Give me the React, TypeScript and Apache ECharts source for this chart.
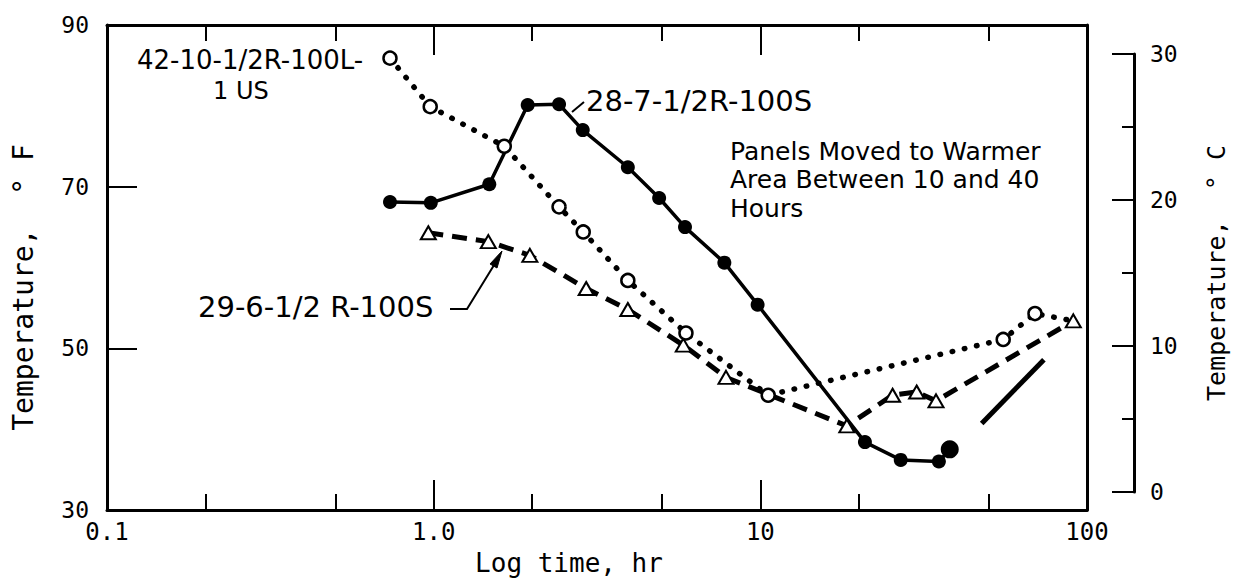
import React, { useEffect, useRef } from "react";
import * as echarts from "echarts";

// 28-7-1/2R-100S (filled circles, solid line)
const solidTimes = [0.735, 0.98, 1.48, 1.94, 2.42, 2.86, 3.93, 4.9, 5.88, 7.76, 9.81, 20.9, 26.9, 35.2, 38.0];
const solidTemps = [68.1, 68.0, 70.3, 80.1, 80.2, 77.0, 72.4, 68.6, 65.0, 60.6, 55.4, 38.4, 36.2, 36.0, 37.5];

// 42-10-1/2R-100L-1US (open circles, dotted line); the line ends on the last triangle
const dottedTimes = [0.735, 0.976, 1.645, 2.42, 2.87, 3.93, 5.92, 10.57, 55.4, 69.3, 90.8];
const dottedTemps = [85.9, 79.9, 75.0, 67.5, 64.4, 58.4, 51.9, 44.2, 51.1, 54.3, 53.4];

// 29-6-1/2R-100S (open triangles, dashed line)
const dashedTimes = [0.963, 1.47, 1.97, 2.93, 3.93, 5.81, 7.85, 18.4, 25.4, 30.1, 34.5, 90.8];
const dashedTemps = [64.3, 63.2, 61.5, 57.4, 54.8, 50.4, 46.4, 40.4, 44.2, 44.6, 43.5, 53.4];

// free-standing solid stroke at the right
const strokeTimes = [47.6, 73.8];
const strokeTemps = [40.7, 48.6];

// axis ticks
const timeTicks = [0.1, 1, 10, 100];
const timeTickLabels = ["0.1", "1.0", "10", "100"];
const minorTimeTicks = [0.2, 0.5, 2, 5, 20, 50];
const fahrenheitRange = [30, 90];
const celsiusRange = [0, 30];

const BLACK = "#000";
const MONO = '"DejaVu Sans Mono", monospace';
const SANS = '"DejaVu Sans", sans-serif';

const pairs = (xs: number[], ys: number[]) => xs.map((x, i) => [x, ys[i]]);

export default function App() {
  const ref = useRef<HTMLDivElement>(null);

  useEffect(() => {
    if (!ref.current) return;
    const chart = echarts.init(ref.current, null, { renderer: "svg" });

    const grid = { left: 107, top: 25, width: 980, height: 485 };

    const timeLabel = (v: number) => {
      const i = timeTicks.findIndex((t) => Math.abs(Math.log10(t) - Math.log10(v)) < 1e-6);
      return i >= 0 ? timeTickLabels[i] : "";
    };

    const frameLine = { show: true, onZero: false, lineStyle: { color: BLACK, width: 3 } };

    const logAxisBase = {
      type: "log" as const,
      logBase: 10,
      min: timeTicks[0],
      max: timeTicks[timeTicks.length - 1],
      axisLine: frameLine,
      axisTick: { show: true, inside: true, length: 30, lineStyle: { color: BLACK, width: 2 } },
      splitLine: { show: false },
      minorTick: { show: false },
    };

    const minorAxisBase = {
      type: "value" as const,
      min: Math.log10(timeTicks[0]),
      max: Math.log10(timeTicks[timeTicks.length - 1]),
      axisLine: { show: false, onZero: false },
      axisLabel: { show: false },
      splitLine: { show: false },
      axisTick: {
        show: true,
        inside: true,
        length: 16,
        customValues: minorTimeTicks.map((t) => Math.log10(t)),
        lineStyle: { color: BLACK, width: 2 },
      },
    };

    chart.setOption({
      animation: false,
      backgroundColor: "#fff",
      grid: [
        { ...grid },
        { ...grid },
        { left: 1100, width: 34, top: 54, height: 438 },
      ],
      xAxis: [
        {
          ...logAxisBase,
          gridIndex: 0,
          position: "bottom",
          axisLabel: {
            show: true,
            margin: 10,
            color: BLACK,
            fontFamily: MONO,
            fontSize: 24,
            formatter: timeLabel,
          },
          name: "Log time, hr",
          nameLocation: "middle",
          nameGap: 40,
          nameTextStyle: { color: BLACK, fontFamily: MONO, fontSize: 26, padding: [0, 56, 0, 0] },
        },
        { ...logAxisBase, gridIndex: 0, position: "top", axisLabel: { show: false } },
        { ...minorAxisBase, gridIndex: 1, position: "bottom" },
        { ...minorAxisBase, gridIndex: 1, position: "top" },
        { type: "value", gridIndex: 2, show: false, min: 0, max: 1 },
      ],
      yAxis: [
        {
          type: "value",
          gridIndex: 0,
          position: "left",
          min: fahrenheitRange[0],
          max: fahrenheitRange[1],
          interval: 20,
          axisLine: frameLine,
          axisTick: { show: true, inside: true, length: 30, lineStyle: { color: BLACK, width: 2 } },
          splitLine: { show: false },
          axisLabel: { margin: 18, color: BLACK, fontFamily: MONO, fontSize: 23 },
          name: "Temperature,  ° F",
          nameLocation: "middle",
          nameRotate: 90,
          nameGap: 70,
          nameTextStyle: { color: BLACK, fontFamily: MONO, fontSize: 28, padding: [0, 40, 0, 0] },
        },
        {
          type: "value",
          gridIndex: 0,
          position: "right",
          min: fahrenheitRange[0],
          max: fahrenheitRange[1],
          axisLine: frameLine,
          axisTick: { show: false },
          axisLabel: { show: false },
          splitLine: { show: false },
        },
        { type: "value", gridIndex: 1, show: false, min: fahrenheitRange[0], max: fahrenheitRange[1] },
        {
          type: "value",
          gridIndex: 2,
          position: "right",
          min: celsiusRange[0],
          max: celsiusRange[1],
          interval: 10,
          axisLine: frameLine,
          axisTick: { show: true, inside: true, length: 22, lineStyle: { color: BLACK, width: 2 } },
          minorTick: { show: true, splitNumber: 2, length: 12, lineStyle: { color: BLACK, width: 2 } },
          splitLine: { show: false },
          minorSplitLine: { show: false },
          axisLabel: { margin: 16, color: BLACK, fontFamily: MONO, fontSize: 23 },
          name: "Temperature,  ° C",
          nameLocation: "middle",
          nameRotate: 90,
          nameGap: 70,
          nameTextStyle: { color: BLACK, fontFamily: MONO, fontSize: 25 },
        },
      ],
      series: [
        {
          name: "28-7-1/2R-100S",
          type: "line",
          xAxisIndex: 0,
          yAxisIndex: 0,
          data: pairs(solidTimes, solidTemps).map((p, i) =>
            i === solidTimes.length - 1 ? { value: p, symbolSize: 18 } : p
          ),
          symbol: "circle",
          symbolSize: 14,
          itemStyle: { color: BLACK },
          lineStyle: { color: BLACK, width: 3.5 },
          z: 2,
        },
        {
          name: "stroke",
          type: "line",
          xAxisIndex: 0,
          yAxisIndex: 0,
          data: pairs(strokeTimes, strokeTemps),
          symbol: "none",
          lineStyle: { color: BLACK, width: 5 },
          z: 2,
        },
        {
          name: "29-6-1/2R-100S",
          type: "line",
          xAxisIndex: 0,
          yAxisIndex: 0,
          data: pairs(dashedTimes, dashedTemps),
          symbol: "triangle",
          symbolSize: [15, 13],
          itemStyle: { color: "#fff", borderColor: BLACK, borderWidth: 2 },
          lineStyle: { color: BLACK, width: 5, type: [15, 9] },
          z: 3,
        },
        {
          name: "42-10-1/2R-100L-1US",
          type: "line",
          xAxisIndex: 0,
          yAxisIndex: 0,
          data: pairs(dottedTimes, dottedTemps).map((p, i) =>
            i === dottedTimes.length - 1 ? { value: p, symbol: "none" } : p
          ),
          symbol: "circle",
          symbolSize: 13,
          itemStyle: { color: "#fff", borderColor: BLACK, borderWidth: 2.5 },
          lineStyle: { color: BLACK, width: 5.5, type: [0.5, 12], cap: "round" },
          z: 4,
        },
      ],
      graphic: [
        {
          type: "text",
          x: 137,
          y: 60,
          style: { text: "42-10-1/2R-100L-", font: `26px ${SANS}`, fill: BLACK, textAlign: "left", textVerticalAlign: "middle" },
        },
        {
          type: "text",
          x: 213,
          y: 91,
          style: { text: "1 US", font: `24px ${SANS}`, fill: BLACK, textAlign: "left", textVerticalAlign: "middle" },
        },
        {
          type: "text",
          x: 586,
          y: 101,
          style: { text: "28-7-1/2R-100S", font: `29px ${SANS}`, fill: BLACK, textAlign: "left", textVerticalAlign: "middle" },
        },
        {
          type: "line",
          shape: { x1: 584, y1: 102, x2: 572, y2: 112 },
          style: { stroke: BLACK, lineWidth: 2 },
        },
        {
          type: "text",
          x: 730,
          y: 137,
          style: {
            text: "Panels Moved to Warmer\nArea Between 10 and 40\nHours",
            font: `25px ${SANS}`,
            lineHeight: 28.5,
            fill: BLACK,
            textAlign: "left",
            textVerticalAlign: "top",
          },
        },
        {
          type: "text",
          x: 198,
          y: 307,
          style: { text: "29-6-1/2 R-100S", font: `29px ${SANS}`, fill: BLACK, textAlign: "left", textVerticalAlign: "middle" },
        },
        {
          type: "polyline",
          shape: { points: [[450, 309], [467, 309], [499, 257]] },
          style: { stroke: BLACK, lineWidth: 2, fill: null },
        },
        {
          type: "polygon",
          shape: { points: [[502, 251], [490, 264], [497, 268]] },
          style: { fill: BLACK, stroke: BLACK, lineWidth: 1 },
        },
      ],
    });

    return () => chart.dispose();
  }, []);

  return (
    <div
      ref={ref}
      style={{ position: "absolute", left: 0, top: 0, width: 1241, height: 583, background: "#fff" }}
    />
  );
}
